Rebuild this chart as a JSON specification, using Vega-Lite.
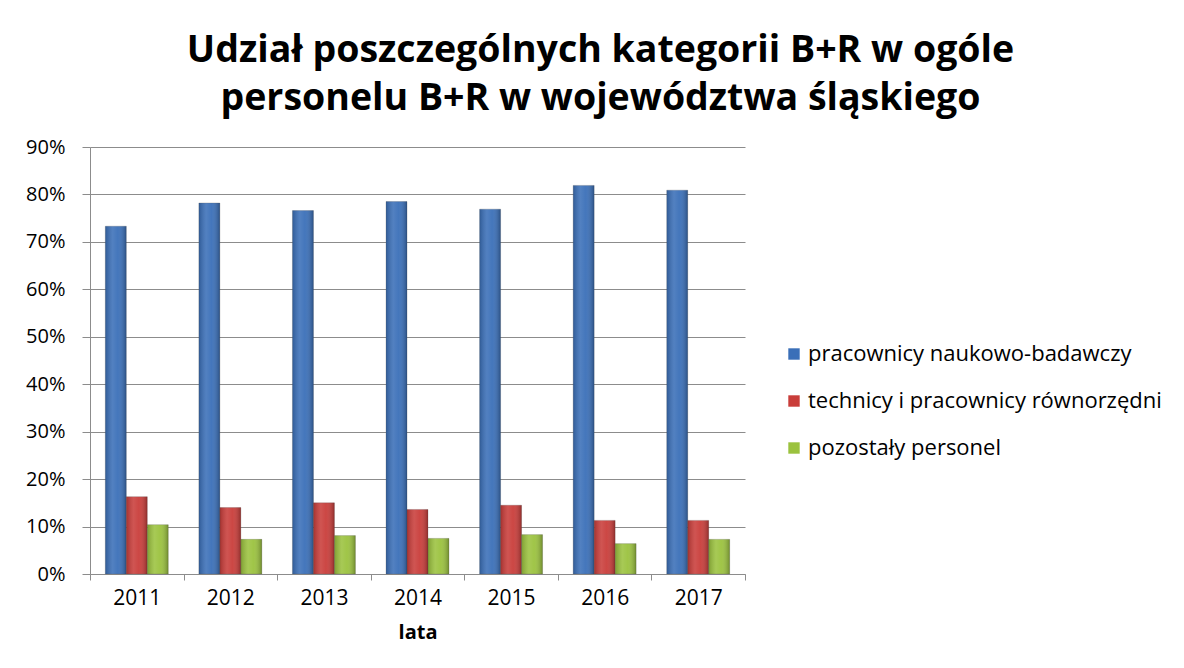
{
  "$schema": "https://vega.github.io/schema/vega-lite/v6.json",
  "width": 655,
  "height": 427,
  "autosize": "none",
  "padding": {"left": 90, "top": 147, "right": 439, "bottom": 94},
  "background": "white",
  "title": {
    "text": ["Udział poszczególnych kategorii B+R w ogóle", "personelu B+R w województwa śląskiego"],
    "anchor": "middle",
    "dx": 183,
    "offset": 20,
    "font": "Open Sans",
    "fontSize": 37.5,
    "fontWeight": "bold",
    "lineHeight": 48,
    "color": "#000000"
  },
  "data": {
    "values": [
      {"rok": "2011", "kategoria": "pracownicy naukowo-badawczy", "udzial": 0.733},
      {"rok": "2011", "kategoria": "technicy i pracownicy równorzędni", "udzial": 0.163},
      {"rok": "2011", "kategoria": "pozostały personel", "udzial": 0.104},
      {"rok": "2012", "kategoria": "pracownicy naukowo-badawczy", "udzial": 0.782},
      {"rok": "2012", "kategoria": "technicy i pracownicy równorzędni", "udzial": 0.140},
      {"rok": "2012", "kategoria": "pozostały personel", "udzial": 0.073},
      {"rok": "2013", "kategoria": "pracownicy naukowo-badawczy", "udzial": 0.766},
      {"rok": "2013", "kategoria": "technicy i pracownicy równorzędni", "udzial": 0.150},
      {"rok": "2013", "kategoria": "pozostały personel", "udzial": 0.081},
      {"rok": "2014", "kategoria": "pracownicy naukowo-badawczy", "udzial": 0.785},
      {"rok": "2014", "kategoria": "technicy i pracownicy równorzędni", "udzial": 0.136},
      {"rok": "2014", "kategoria": "pozostały personel", "udzial": 0.075},
      {"rok": "2015", "kategoria": "pracownicy naukowo-badawczy", "udzial": 0.769},
      {"rok": "2015", "kategoria": "technicy i pracownicy równorzędni", "udzial": 0.145},
      {"rok": "2015", "kategoria": "pozostały personel", "udzial": 0.083},
      {"rok": "2016", "kategoria": "pracownicy naukowo-badawczy", "udzial": 0.819},
      {"rok": "2016", "kategoria": "technicy i pracownicy równorzędni", "udzial": 0.113},
      {"rok": "2016", "kategoria": "pozostały personel", "udzial": 0.064},
      {"rok": "2017", "kategoria": "pracownicy naukowo-badawczy", "udzial": 0.809},
      {"rok": "2017", "kategoria": "technicy i pracownicy równorzędni", "udzial": 0.113},
      {"rok": "2017", "kategoria": "pozostały personel", "udzial": 0.073}
    ]
  },
  "encoding": {
    "x": {
      "field": "rok", "type": "nominal",
      "scale": {"paddingInner": 0, "paddingOuter": 0},
      "axis": {
        "title": "lata", "labelAngle": 0, "tickBand": "extent",
        "labelFont": "Open Sans", "labelFontSize": 21, "labelColor": "#000000", "labelPadding": 7,
        "titleFont": "Open Sans", "titleFontSize": 20, "titleFontWeight": "bold", "titleColor": "#000000", "titlePadding": 14,
        "domainColor": "#8c8c8c", "tickColor": "#8c8c8c", "tickSize": 6, "grid": false
      }
    },
    "xOffset": {
      "field": "kategoria", "type": "nominal",
      "sort": ["pracownicy naukowo-badawczy", "technicy i pracownicy równorzędni", "pozostały personel"],
      "scale": {"paddingInner": 0, "paddingOuter": 0.73}
    },
    "y": {
      "field": "udzial", "type": "quantitative",
      "scale": {"domain": [0, 0.9], "nice": false},
      "axis": {
        "title": null, "format": ".0%", "values": [0, 0.1, 0.2, 0.3, 0.4, 0.5, 0.6, 0.7, 0.8, 0.9],
        "labelFont": "Open Sans", "labelFontSize": 20, "labelColor": "#000000", "labelPadding": 17,
        "domainColor": "#8c8c8c", "tickColor": "#8c8c8c", "tickSize": 8,
        "grid": true, "gridColor": "#8c8c8c", "gridWidth": 1
      }
    }
  },
  "layer": [
    {
      "mark": {"type": "bar", "stroke": "#555555", "strokeWidth": 0.5, "strokeOpacity": 0.5},
      "encoding": {
        "color": {
          "field": "kategoria", "type": "nominal",
          "sort": ["pracownicy naukowo-badawczy", "technicy i pracownicy równorzędni", "pozostały personel"],
          "scale": {"domain": ["pracownicy naukowo-badawczy", "technicy i pracownicy równorzędni", "pozostały personel"], "range": ["#3a6fb8", "#c93d3a", "#9bc23e"]},
          "legend": {
            "title": null, "orient": "none", "legendX": 693, "legendY": 196,
            "symbolType": "square", "symbolSize": 130, "symbolStrokeWidth": 0,
            "labelFont": "Open Sans", "labelFontSize": 22, "labelColor": "#000000", "labelLimit": 0,
            "rowPadding": 25, "labelOffset": 3
          }
        }
      }
    },
    {
      "mark": {
        "type": "bar",
        "fill": {
          "gradient": "linear", "x1": 0, "x2": 1, "y1": 0, "y2": 0,
          "stops": [
            {"offset": 0, "color": "rgba(0,0,0,0.18)"},
            {"offset": 0.35, "color": "rgba(255,255,255,0.12)"},
            {"offset": 0.6, "color": "rgba(255,255,255,0.05)"},
            {"offset": 1, "color": "rgba(0,0,0,0.28)"}
          ]
        }
      },
      "encoding": {}
    }
  ],
  "config": {"view": {"stroke": null}}
}
